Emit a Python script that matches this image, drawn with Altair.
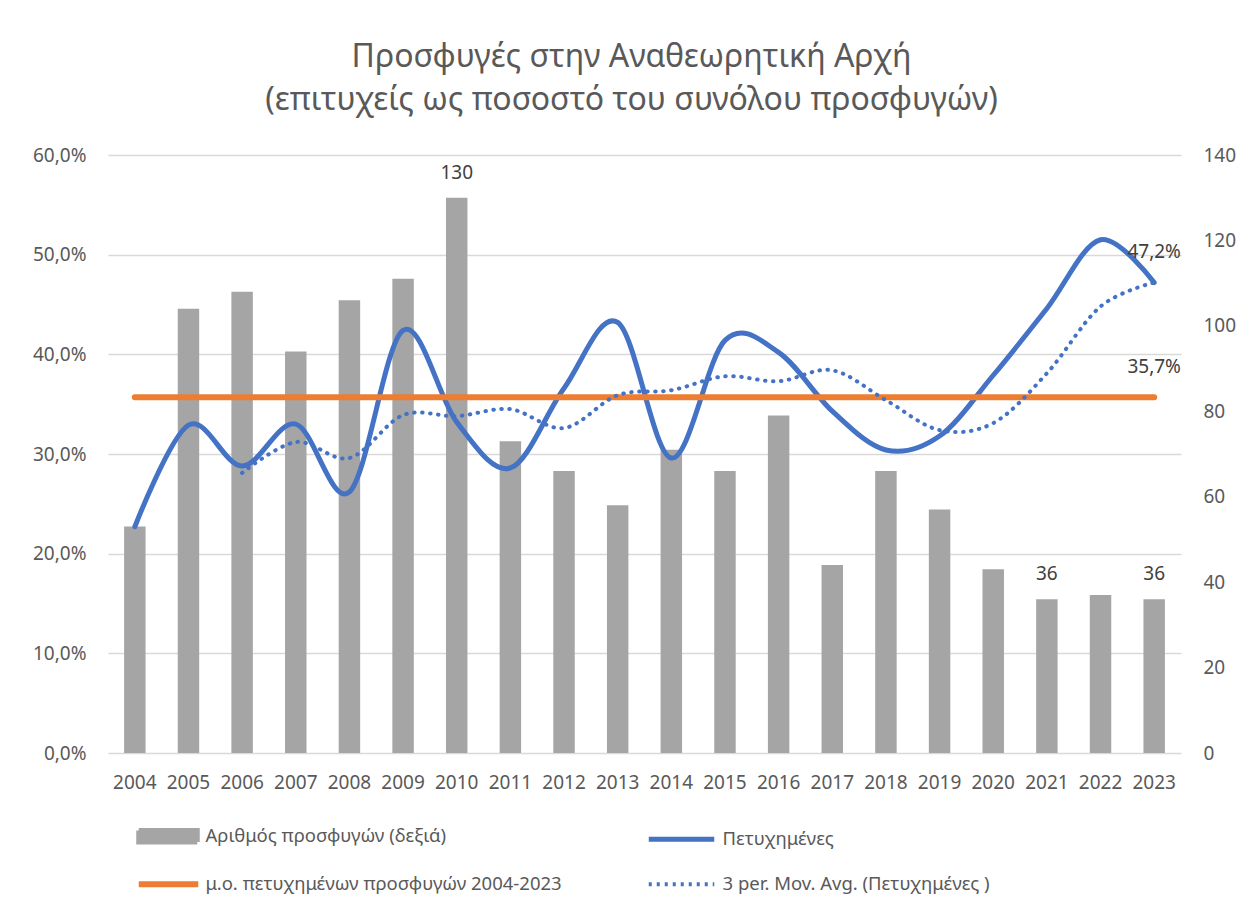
import altair as alt
import pandas as pd

FONT = "Noto Sans"
TXT = "#595959"

# ---- data ----
years = [str(y) for y in range(2004, 2024)]
appeals = [53, 104, 108, 94, 106, 111, 130, 73, 66, 58, 71, 66, 79, 44, 66, 57, 43, 36, 37, 36]
success = [22.7, 32.9, 28.8, 33.0, 26.2, 42.4, 33.2, 28.6, 36.6, 43.2, 29.6, 41.4, 40.2, 34.3,
           30.4, 31.8, 37.9, 44.6, 51.5, 47.2]
mov_avg = [None, None, 28.1, 31.2, 29.6, 33.9, 33.8, 34.5, 32.6, 35.9, 36.4, 37.8, 37.3, 38.4,
           35.4, 32.4, 33.1, 38.1, 44.8, 47.2]
avg_value = 35.7
appeal_label_years = ["2010", "2021", "2023"]
pct_label_years = ["2023"]

S_BARS = "Αριθμός προσφυγών (δεξιά)"
S_SUCC = "Πετυχημένες"
S_AVG = "μ.ο. πετυχημένων προσφυγών 2004-2023"
S_MA = "3 per. Mov. Avg. (Πετυχημένες )"
series_names = [S_BARS, S_SUCC, S_AVG, S_MA]
series_colors = ["#A5A5A5", "#4472C4", "#ED7D31", "#4472C4"]

df = pd.DataFrame({
    "year": years,
    "appeals": appeals,
    "success": success,
    "ma": mov_avg,
    "avg": [avg_value] * len(years),
})

RECT = "M-6.1,-1.15H5.6V1.15H-6.1Z"
LINE = "M-6.1,0H5.8"
LINE_LONG = "M-7.5,0H5.6"

legend = alt.Legend(
    title=None, orient="none", legendX=29, legendY=672, columns=2, direction="horizontal",
    labelFont=FONT, labelFontSize=18.5, labelColor=TXT, labelLimit=700,
    symbolSize=100, symbolOffset=23, labelOffset=27,
    columnPadding=76, rowPadding=20, padding=0, symbolOpacity=1,
    symbolType={"expr": f"datum.value === '{S_BARS}' ? '{RECT}' : (datum.value === '{S_AVG}' ? '{LINE}' : '{LINE_LONG}')"},
    symbolFillColor={"expr": f"datum.value === '{S_BARS}' ? '#A5A5A5' : 'transparent'"},
    symbolStrokeColor={"expr": f"datum.value === '{S_BARS}' ? 'transparent' : (datum.value === '{S_AVG}' ? '#ED7D31' : '#4472C4')"},
    symbolStrokeWidth={"expr": f"datum.value === '{S_MA}' ? 4 : (datum.value === '{S_AVG}' ? 6 : 5)"},
    symbolDash={"expr": f"datum.value === '{S_MA}' ? [3, 5] : [1, 0]"},
)

color_enc = alt.Color("series:N", scale=alt.Scale(domain=series_names, range=series_colors), legend=legend)

x_enc = alt.X("year:N", sort=years,
              scale=alt.Scale(paddingInner=0.6, paddingOuter=0.3),
              axis=alt.Axis(title=None, labelAngle=0, ticks=False, domain=False,
                            labelPadding=20, labelFontSize=19))

base = alt.Chart(df)

y_right = alt.Y("appeals:Q", scale=alt.Scale(domain=[0, 140]),
                axis=alt.Axis(orient="right", title=None, values=list(range(0, 141, 20)), grid=False,
                              ticks=False, domain=False, labelPadding=22, labelFontSize=19))

bars = base.transform_calculate(series=f"'{S_BARS}'").mark_bar().encode(
    x=x_enc, y=y_right, color=color_enc)

bar_text = base.transform_filter(
    alt.FieldOneOfPredicate(field="year", oneOf=appeal_label_years)
).mark_text(dy=-25, baseline="middle", fontSize=19, font=FONT, color="#404040").encode(
    x=x_enc, y="appeals:Q", text="appeals:Q")

right = alt.layer(bars, bar_text)

y_left = alt.Y("success:Q", scale=alt.Scale(domain=[0, 60]),
               axis=alt.Axis(orient="left", title=None, values=list(range(0, 61, 10)), grid=True,
                             ticks=False, domain=False, labelPadding=22, labelFontSize=19,
                             labelExpr="replace(format(datum.value, '.1f'), '.', ',') + '%'"))

succ_line = base.transform_calculate(series=f"'{S_SUCC}'").mark_line(
    interpolate="cardinal", strokeWidth=5, strokeCap="round", strokeJoin="round").encode(
    x=x_enc, y=y_left, color=color_enc)

avg_line = base.transform_calculate(series=f"'{S_AVG}'").mark_line(
    strokeWidth=6, strokeCap="round").encode(
    x=x_enc, y=alt.Y("avg:Q"), color=color_enc)

ma_line = base.transform_filter("isValid(datum.ma)").transform_calculate(series=f"'{S_MA}'").mark_line(
    interpolate="cardinal", strokeWidth=4, strokeDash=[0.5, 7.5], strokeCap="round").encode(
    x=x_enc, y=alt.Y("ma:Q"), color=color_enc)

succ_text = base.transform_filter(
    alt.FieldOneOfPredicate(field="year", oneOf=pct_label_years)
).transform_calculate(
    lbl="replace(format(datum.success, '.1f'), '.', ',') + '%'"
).mark_text(dy=-31, baseline="middle", fontSize=19, font=FONT, color="#404040").encode(
    x=x_enc, y=alt.Y("success:Q"), text="lbl:N")

avg_text = base.transform_filter(
    alt.FieldOneOfPredicate(field="year", oneOf=pct_label_years)
).transform_calculate(
    lbl="replace(format(datum.avg, '.1f'), '.', ',') + '%'"
).mark_text(dy=-30, baseline="middle", fontSize=19, font=FONT, color="#404040").encode(
    x=x_enc, y=alt.Y("avg:Q"), text="lbl:N")

left = alt.layer(succ_line, avg_line, ma_line, succ_text, avg_text)

chart = alt.layer(right, left).resolve_scale(y="independent").properties(
    width=1073, height=598,
    autosize=alt.AutoSizeParams(type="none"),
    padding={"left": 100, "top": 147, "right": 57, "bottom": 150},
    title=alt.TitleParams(
        ["Προσφυγές στην Αναθεωρητική Αρχή", "(επιτυχείς ως ποσοστό του συνόλου προσφυγών)"],
        font=FONT, fontSize=32, fontWeight="normal", color=TXT, anchor="middle",
        lineHeight=43, offset=29, dx=-13),
).configure_view(stroke=None).configure_axis(
    labelFont=FONT, labelColor=TXT, gridColor="#D9D9D9", gridWidth=1.3
)

chart.save("out.html", embed_options={"renderer": "svg", "actions": False})
